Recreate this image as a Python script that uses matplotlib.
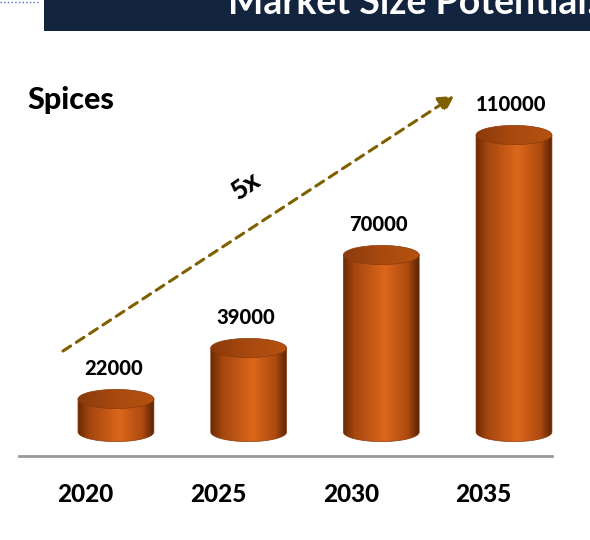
import numpy as np
import matplotlib
matplotlib.use("Agg")
from matplotlib import pyplot as plt
from matplotlib.colors import LinearSegmentedColormap
from matplotlib.patches import Polygon, Ellipse, Rectangle
from matplotlib.lines import Line2D
import matplotlib.transforms as mtransforms

years = ["2020", "2025", "2030", "2035"]
market_size = [22000, 39000, 70000, 110000]
labels = ["22000", "39000", "70000", "110000"]

plt.rcParams['font.family'] = ['Lato', 'DejaVu Sans']

fig = plt.figure(figsize=(5.9, 5.4), dpi=100)
fig.patch.set_facecolor("white")
ax = fig.add_axes([0, 0, 1, 1])
ax.set_axis_off()

body_cmap = LinearSegmentedColormap.from_list(
    "body", [(0, "#6a2a05"), (0.15, "#a4460e"), (0.55, "#dc671b"), (0.85, "#ad4a10"), (1, "#5a2404")])
top_cmap = LinearSegmentedColormap.from_list("top", ["#8a3a0b", "#a9490f", "#b5520f"])

base = 11000      # floor of the cylinders
rx = 0.286        # half width in category units
ry = 3200         # half height of the ellipses
edge = "#8a3a0a"
grad = np.linspace(0, 1, 256).reshape(1, -1)


def cylinder(x, top):
    theta = np.linspace(np.pi, 2 * np.pi, 80)
    arc = np.column_stack([x + rx * np.cos(theta), base + ry * np.sin(theta)])
    verts = np.vstack([[x - rx, top], arc, [x + rx, top]])
    body = Polygon(verts, closed=True, facecolor="none", edgecolor=edge, lw=0.5, zorder=3)
    ax.add_patch(body)
    im = ax.imshow(grad, extent=[x - rx, x + rx, base - ry, top], aspect="auto",
                   cmap=body_cmap, zorder=2, interpolation="bicubic")
    im.set_clip_path(body)
    lid = Ellipse((x, top), 2 * rx, 2 * ry, facecolor="none", edgecolor=edge, lw=0.5, zorder=5)
    ax.add_patch(lid)
    im2 = ax.imshow(grad, extent=[x - rx, x + rx, top - ry, top + ry], aspect="auto",
                    cmap=top_cmap, zorder=4, interpolation="bicubic")
    im2.set_clip_path(lid)


for i, v in enumerate(market_size):
    cylinder(i, v)
    ax.annotate(labels[i], xy=(i, v), xytext=(-2, 22), textcoords="offset points",
                ha="center", va="center", fontsize=14.5, fontweight="black", color="black")

ax.set_xlim(-0.874, 3.573)
ax.set_ylim(-25000, 155000)

# year labels under the floor line
trans = mtransforms.blended_transform_factory(ax.transData, ax.transAxes)
for i, y in enumerate(years):
    ax.text(i - 0.23, 1 - 494 / 540, y, transform=trans, ha="center", va="center",
            fontsize=17.5, fontweight="black", color="black")

W, H = 590, 540
# floor line
fig.add_artist(Line2D([19 / W, 552 / W], [1 - 456 / H, 1 - 456 / H], color="#9a9a9a", lw=2))

# header banner
fig.add_artist(Rectangle((44 / W, 1 - 31 / H), 1 - 44 / W, 31 / H, facecolor="#13243f",
                         edgecolor="none", transform=fig.transFigure))
fig.text(228 / W, 1 - 14 / H, "Market Size Potential:", color="white", fontsize=27,
         fontweight="bold", ha="left", va="baseline")
fig.add_artist(Line2D([0, 40 / W], [1 - 1.5 / H, 1 - 1.5 / H], color="#4472c4", lw=1, ls=":"))

fig.text(27 / W, 1 - 100 / H, "Spices", fontsize=22, fontweight="black", ha="left", va="center")

# growth arrow
ax.annotate("", xy=(454 / W, 1 - 96 / H), xytext=(63 / W, 1 - 351 / H),
            xycoords="figure fraction", textcoords="figure fraction",
            arrowprops=dict(arrowstyle="-|>,head_length=0.9,head_width=0.5", color="#7f6000",
                            lw=2.2, ls=(0, (3, 2.2)), shrinkA=0, shrinkB=0))
fig.text(245 / W, 1 - 186 / H, "5x", fontsize=19, fontweight="black", rotation=35,
         ha="center", va="center")

fig.savefig("out.png", dpi=100)
